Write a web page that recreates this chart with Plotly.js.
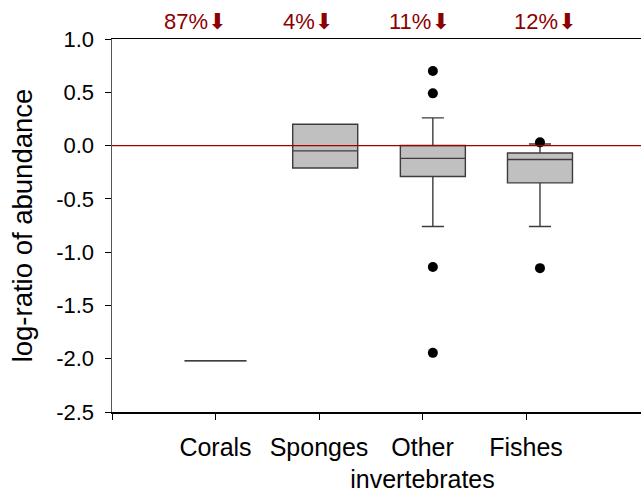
<!DOCTYPE html>
<html>
<head>
<meta charset="utf-8">
<script src="https://cdn.plot.ly/plotly-3.0.1.min.js"></script>
<style>html,body{margin:0;padding:0;background:#fff;overflow:hidden;}</style>
</head>
<body>
<div id="chart" style="width:641px;height:495px;"></div>
<script>
// ---- data ----
const categories = ['Corals', 'Sponges', 'Other<br>invertebrates', 'Fishes'];
const q1         = [-2.02, -0.21, -0.29, -0.35];
const medians    = [-2.02, -0.05, -0.12, -0.13];
const q3         = [-2.02,  0.20,  0.00, -0.07];
const lowerWhisk = [-2.02, -0.21, -0.76, -0.76];
const upperWhisk = [-2.02,  0.20,  0.26,  0.015];
const outliersOther  = [0.70, 0.49, -1.14, -1.945];
const outliersFishes = [0.03, -1.15];
const declines = ['87%', '4%', '11%', '12%'];
const yTickVals   = [-2.5, -2.0, -1.5, -1.0, -0.5, 0.0, 0.5, 1.0];
const yTickLabels = ['-2.5', '-2.0', '-1.5', '-1.0', '-0.5', '0.0', '0.5', '1.0'];

// ---- layout positions (axis units) ----
const tickPos = [1, 2, 3, 4];
const boxPos = [1.0, 2.06, 3.10, 4.135];
const labelPos = [0.80, 1.89, 2.97, 4.18];

const traces = [];
for (let i = 0; i < categories.length; i++) {
  traces.push({
    type: 'box',
    x: [boxPos[i]],
    q1: [q1[i]], median: [medians[i]], q3: [q3[i]],
    lowerfence: [lowerWhisk[i]], upperfence: [upperWhisk[i]],
    width: i === 0 ? 0.6 : 0.628,
    whiskerwidth: 0.34,
    fillcolor: '#c0c0c0',
    line: {color: i === 0 ? '#000' : '#3c3c3c', width: 1.4},
    boxpoints: false,
    hoverinfo: 'skip',
    showlegend: false
  });
}
traces.push({
  type: 'scatter', mode: 'markers',
  x: outliersOther.map(() => boxPos[2]), y: outliersOther,
  marker: {color: '#000', size: 10}, showlegend: false, hoverinfo: 'skip'
});
traces.push({
  type: 'scatter', mode: 'markers',
  x: outliersFishes.map(() => boxPos[3]), y: outliersFishes,
  marker: {color: '#000', size: 10}, showlegend: false, hoverinfo: 'skip'
});

const annotations = declines.map((d, i) => ({
  x: labelPos[i], xref: 'x', y: 1.047, yref: 'paper',
  text: d + '<span style="font-family:DejaVu Sans">⬇</span>',
  showarrow: false, xanchor: 'center', yanchor: 'middle',
  font: {family: 'Liberation Sans, Arial, sans-serif', size: 22, color: '#8b0000'}
}));

const layout = {
  width: 641, height: 495,
  margin: {l: 112, r: 0, t: 39, b: 83, pad: 0},
  paper_bgcolor: '#fff', plot_bgcolor: '#fff',
  font: {family: 'Liberation Sans, Arial, sans-serif', color: '#000'},
  xaxis: {
    range: [0, 5.111], fixedrange: true,
    tickmode: 'array',
    tickvals: [0].concat(tickPos),
    ticktext: [''].concat(categories),
    tickangle: 0,
    ticks: 'outside', ticklen: 6, tickwidth: 1, tickcolor: '#000',
    tickfont: {size: 25},
    ticklabelstandoff: 6,
    showline: true, linecolor: '#000', linewidth: 1.5, mirror: true,
    showgrid: false, zeroline: false
  },
  yaxis: {
    range: [-2.5, 1.0], fixedrange: true,
    tickmode: 'array', tickvals: yTickVals, ticktext: yTickLabels,
    ticks: 'outside', ticklen: 6, tickwidth: 1, tickcolor: '#000',
    tickfont: {size: 22},
    ticklabelstandoff: 6,
    showline: true, linecolor: '#555', linewidth: 1.5,
    showgrid: false, zeroline: false,
    title: {text: 'log-ratio of abundance', font: {size: 27.5}, standoff: 15}
  },
  shapes: [{
    type: 'line', layer: 'above', xref: 'paper', x0: 0, x1: 1, yref: 'y', y0: 0, y1: 0,
    line: {color: '#a00000', width: 1.3}
  }],
  annotations: annotations
};

Plotly.newPlot('chart', traces, layout, {displayModeBar: false, staticPlot: true});
</script>
</body>
</html>
